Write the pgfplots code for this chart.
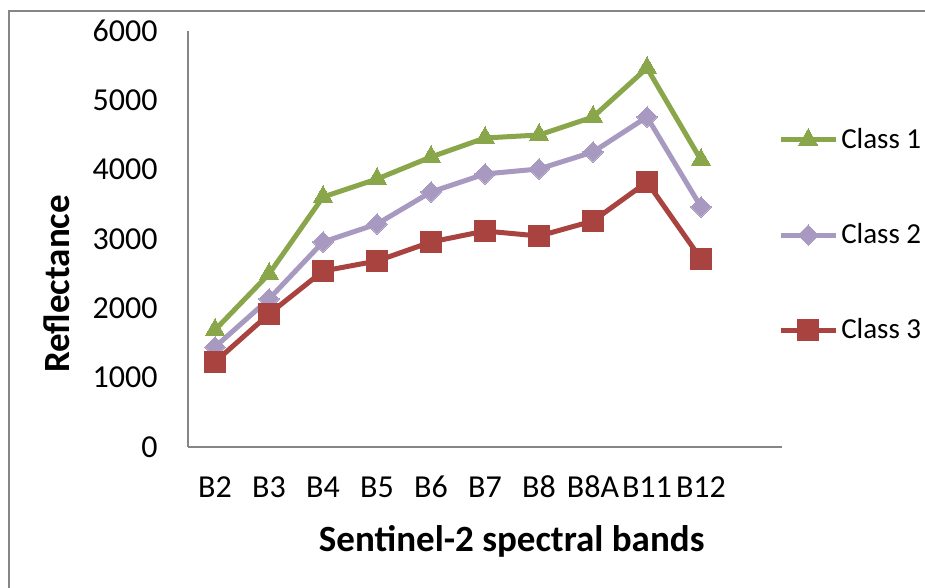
\documentclass[border=0pt]{standalone}
\usepackage{fontspec}
\setmainfont{Carlito}
\usepackage{pgfplots}
\pgfplotsset{compat=1.18}
\definecolor{cgreen}{RGB}{138,166,75}
\definecolor{cpurple}{RGB}{167,153,192}
\definecolor{cred}{RGB}{168,67,64}
\definecolor{caxis}{RGB}{134,134,134}
\begin{document}
\begin{tikzpicture}
\useasboundingbox (0,0) rectangle (462.5pt,294pt);
\fill[white] (0,0) rectangle (462.5pt,294pt);
\draw[caxis, line width=0.6pt] (4.5pt,-1pt) -- (4.5pt,288.5pt) -- (463pt,288.5pt);
\begin{axis}[
  at={(94pt,70.5pt)}, anchor=south west,
  scale only axis, width=297pt, height=208pt,
  xmin=-0.5, xmax=10.5, ymin=0, ymax=6000,
  xtick={0,...,9},
  xticklabels={B2,B3,B4,B5,B6,B7,B8,B8A,B11,B12},
  ytick={0,1000,...,6000},
  /pgf/number format/1000 sep={},
  /pgf/number format/assume math mode=true,
  axis lines=left,
  axis line style={-, caxis, line width=0.75pt},
  major tick length=0pt,
  tick style={draw=none},
  ticklabel style={font=\fontsize{16}{19}\selectfont, inner sep=0pt},
  xticklabel style={anchor=base, yshift=-25.5pt},
  yticklabel style={anchor=east, xshift=-15pt},
  xlabel={Sentinel-2 spectral bands},
  ylabel={Reflectance},
  label style={font=\bfseries\fontsize{18.5}{22}\selectfont},
  xlabel style={at={(axis description cs:0.545,-0.226)}, anchor=center},
  ylabel style={at={(axis description cs:-0.2205,0.392)}, anchor=center, rotate=0},
  clip=false,
  legend style={at={(axis description cs:0.993,0.5096)}, anchor=west, draw=none, fill=none,
    inner sep=0pt, row sep=33pt, font=\fontsize{14.5}{17}\selectfont,
    nodes={inner sep=1.5pt}},
  legend cell align=left,
  legend image code/.code={\draw[mark repeat=2,mark phase=2,#1] plot coordinates {(0pt,0pt) (13.75pt,0pt) (27.5pt,0pt)};},
]
\addplot[cgreen, line width=2.5pt, mark=triangle*, mark size=5.6pt, mark options={solid, line width=0pt, fill=cgreen}]
  coordinates {(0,1688) (1,2495) (2,3606) (3,3865) (4,4183) (5,4457) (6,4500) (7,4760) (8,5466) (9,4139)};
\addlegendentry{Class 1}
\addplot[cpurple, line width=2.5pt, mark=square*, mark size=3.6pt, mark options={solid, rotate=45, line width=0pt, fill=cpurple}]
  coordinates {(0,1442) (1,2135) (2,2957) (3,3216) (4,3678) (5,3938) (6,4010) (7,4255) (8,4760) (9,3462)};
\addlegendentry{Class 2}
\addplot[cred, line width=2.5pt, mark=square*, mark size=5.2pt, mark options={solid, line width=0pt, fill=cred}]
  coordinates {(0,1226) (1,1918) (2,2538) (3,2683) (4,2957) (5,3115) (6,3043) (7,3260) (8,3822) (9,2712)};
\addlegendentry{Class 3}
\end{axis}
\end{tikzpicture}
\end{document}
